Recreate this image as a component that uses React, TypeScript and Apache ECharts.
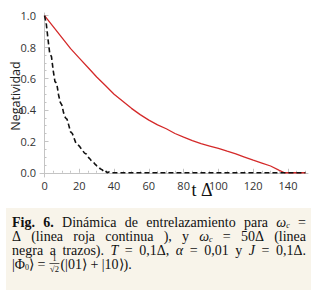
import React, { useEffect, useRef } from "react";
import * as echarts from "echarts";

// Red curve (omega_c = Delta)
const tRed = [0, 5, 10, 15, 20, 25, 30, 35, 40, 45, 50, 55, 60, 65, 70, 75, 80, 85, 90, 95, 100, 105, 110, 115, 120, 125, 130, 135, 138, 150];
const negRed = [1.0, 0.93, 0.86, 0.79, 0.73, 0.67, 0.61, 0.555, 0.5, 0.455, 0.41, 0.37, 0.335, 0.305, 0.28, 0.25, 0.227, 0.205, 0.185, 0.17, 0.155, 0.137, 0.12, 0.1, 0.08, 0.062, 0.043, 0.015, 0.0, 0.0];

// Black dashed curve (omega_c = 50 Delta)
const tBlack = [0, 1, 2, 3, 4, 5, 6, 7, 8, 9, 10, 11, 12, 13, 14, 15, 16, 17, 18, 19, 20, 21, 22, 23, 24, 25, 26, 27, 28, 29, 30, 31, 32, 33, 34, 35, 36, 37, 38, 150];
const negBlack = [1.0, 0.95, 0.85, 0.76, 0.74, 0.65, 0.58, 0.57, 0.5, 0.45, 0.43, 0.38, 0.35, 0.34, 0.3, 0.26, 0.25, 0.22, 0.19, 0.18, 0.17, 0.155, 0.14, 0.125, 0.12, 0.1, 0.09, 0.075, 0.07, 0.055, 0.045, 0.04, 0.025, 0.02, 0.01, 0.015, 0.0, 0.005, 0.0, 0.0];

const xMajor = [0, 20, 40, 60, 80, 100, 120, 140];
const xMinor = [5, 10, 15, 25, 30, 35, 45, 50, 55, 65, 70, 75, 85, 90, 95, 105, 110, 115, 125, 130, 135, 145, 150];
const yMajor = [0, 0.2, 0.4, 0.6, 0.8, 1.0];
const yMinor = [0.05, 0.1, 0.15, 0.25, 0.3, 0.35, 0.45, 0.5, 0.55, 0.65, 0.7, 0.75, 0.85, 0.9, 0.95];

const yTitle = "Negatividad";
const xTitle = "t Δ";

const SERIF = "Liberation Serif";
const SANS = "Open Sans";
const capFont = 14;
const subFont = 8;
const ink = "#111";

// caption words; each word is a list of [text, style] segments (r regular, b bold, i italic, s italic subscript, n subscript)
type Seg = [string, string];
const omegaC: Seg[] = [["ω", "i"], ["c", "s"]];
const captionLines: Seg[][][] = [
  [[["Fig.", "b"]], [["6.", "b"]], [["Dinámica", "r"]], [["de", "r"]], [["entrelazamiento", "r"]], [["para", "r"]], omegaC, [["=", "r"]]],
  [[["Δ", "r"]], [["(linea", "r"]], [["roja", "r"]], [["continua", "r"]], [["),", "r"]], [["y", "r"]], omegaC, [["=", "r"]], [["50Δ", "r"]], [["(linea", "r"]]],
  [[["negra", "r"]], [["a", "r"]], [["trazos).", "r"]], [["T", "i"]], [["=", "r"]], [["0,1Δ,", "r"]], [["α", "i"]], [["=", "r"]], [["0,01", "r"]], [["y", "r"]], [["J", "i"]], [["=", "r"]], [["0,1Δ.", "r"]]],
];
const lastLineHead: Seg[] = [["|Φ", "r"], ["0", "n"], ["⟩ =", "r"]];
const lastLineTail: Seg[] = [["(|01⟩ + |10⟩).", "r"]];

const rich: any = {
  r: { fontSize: capFont, fontFamily: SERIF, color: ink },
  b: { fontWeight: "bold", fontSize: capFont, fontFamily: SERIF, color: ink },
  i: { fontStyle: "italic", fontSize: capFont, fontFamily: SERIF, color: ink },
  s: { fontStyle: "italic", fontSize: subFont, fontFamily: SERIF, color: ink, padding: [7, 0, 0, 0] },
  n: { fontSize: subFont, fontFamily: SERIF, color: ink, padding: [7, 0, 0, 0] },
};

function fontOf(st: string) {
  const size = st === "s" || st === "n" ? subFont : capFont;
  const style = st === "i" || st === "s" ? "italic " : "";
  const weight = st === "b" ? "bold " : "";
  return `${style}${weight}${size}px "${SERIF}"`;
}

export default function App() {
  const ref = useRef<HTMLDivElement>(null);
  useEffect(() => {
    if (!ref.current) return;
    const chart = echarts.init(ref.current, undefined, { renderer: "svg" });
    const ctx = document.createElement("canvas").getContext("2d")!;
    const measure = (segs: Seg[]) =>
      segs.reduce((w, [t, st]) => {
        ctx.font = fontOf(st);
        return w + ctx.measureText(t).width;
      }, 0);
    const toRich = (segs: Seg[]) => segs.map(([t, st]) => `{${st}|${t}}`).join("");

    const axisColor = "#c4c4c4";
    const lineY = [222, 236, 250, 264];
    const left = 12;
    const right = 306;
    const graphics: any[] = [
      { type: "rect", shape: { x: 6, y: 208, width: 305, height: 82 }, style: { fill: "#f8f4ea" }, z: 0 },
      {
        type: "text", x: 15, y: 96, rotation: Math.PI / 2,
        style: { text: yTitle, fontSize: 12.5, fontFamily: SANS, fill: "#222", align: "center", verticalAlign: "middle" },
      },
      {
        type: "text", x: 202, y: 190,
        style: { text: xTitle, fontSize: 18, fontFamily: SERIF, fill: ink, align: "center", verticalAlign: "middle" },
      },
    ];
    captionLines.forEach((words, li) => {
      const widths = words.map(measure);
      const total = widths.reduce((a, b) => a + b, 0);
      const gap = (right - left - total) / (words.length - 1);
      let x = left;
      words.forEach((w, wi) => {
        graphics.push({
          type: "text", x, y: lineY[li],
          style: { text: toRich(w), rich, fontSize: capFont, fontFamily: SERIF, fill: ink, align: "left", verticalAlign: "middle" },
        });
        x += widths[wi] + gap;
      });
    });
    // last line with fraction 1/sqrt(2)
    const headW = measure(lastLineHead);
    const fx = left + headW + 9;
    graphics.push(
      { type: "text", x: left, y: lineY[3], style: { text: toRich(lastLineHead), rich, fontSize: capFont, fontFamily: SERIF, fill: ink, align: "left", verticalAlign: "middle" } },
      { type: "text", x: fx, y: lineY[3] - 5.5, style: { text: "1", fontSize: 8, fontFamily: SERIF, fill: ink, align: "center", verticalAlign: "middle" } },
      { type: "line", shape: { x1: fx - 5, y1: lineY[3] - 0.5, x2: fx + 5, y2: lineY[3] - 0.5 }, style: { stroke: ink, lineWidth: 0.7 } },
      { type: "text", x: fx, y: lineY[3] + 5, style: { text: "√2", fontSize: 8.5, fontFamily: SERIF, fill: ink, align: "center", verticalAlign: "middle" } },
      { type: "text", x: fx + 6, y: lineY[3], style: { text: toRich(lastLineTail), rich, fontSize: capFont, fontFamily: SERIF, fill: ink, align: "left", verticalAlign: "middle" } }
    );

    const xBase = { type: "value", min: -2.6, max: 151.5, position: "bottom", splitLine: { show: false } };
    const yBase = { type: "value", min: -0.027, max: 1.017, position: "left", splitLine: { show: false } };

    chart.setOption({
      animation: false,
      grid: { left: 40, right: 12, top: 13, height: 164, containLabel: false },
      xAxis: [
        {
          ...xBase,
          axisLine: { show: true, lineStyle: { color: axisColor, width: 1 } },
          axisTick: { show: true, inside: true, length: 4, lineStyle: { color: axisColor }, customValues: xMajor },
          axisLabel: { customValues: xMajor, margin: 3, fontSize: 11, fontFamily: SANS, color: "#333" },
        },
        {
          ...xBase,
          axisLine: { show: false },
          axisTick: { show: true, inside: true, length: 2, lineStyle: { color: axisColor }, customValues: xMinor },
          axisLabel: { show: false },
        },
      ],
      yAxis: [
        {
          ...yBase,
          axisLine: { show: true, lineStyle: { color: axisColor, width: 1 } },
          axisTick: { show: true, inside: true, length: 4, lineStyle: { color: axisColor }, customValues: yMajor },
          axisLabel: {
            customValues: yMajor, margin: 4, fontSize: 11, fontFamily: SANS, color: "#333",
            formatter: (v: number) => v.toFixed(1),
          },
        },
        {
          ...yBase,
          axisLine: { show: false },
          axisTick: { show: true, inside: true, length: 2, lineStyle: { color: axisColor }, customValues: yMinor },
          axisLabel: { show: false },
        },
      ],
      graphic: graphics,
      series: [
        {
          type: "line",
          data: tRed.map((t, i) => [t, negRed[i]]),
          symbol: "none",
          lineStyle: { color: "#d42a2a", width: 1.3 },
          z: 2,
        },
        {
          type: "line",
          data: tBlack.map((t, i) => [t, negBlack[i]]),
          symbol: "none",
          lineStyle: { color: "#111", width: 1.6, type: [5, 3] },
          z: 3,
        },
      ],
    });
    return () => chart.dispose();
  }, []);
  return (
    <div
      ref={ref}
      style={{ position: "fixed", left: 0, top: 0, width: 320, height: 297, background: "#fff" }}
    />
  );
}
